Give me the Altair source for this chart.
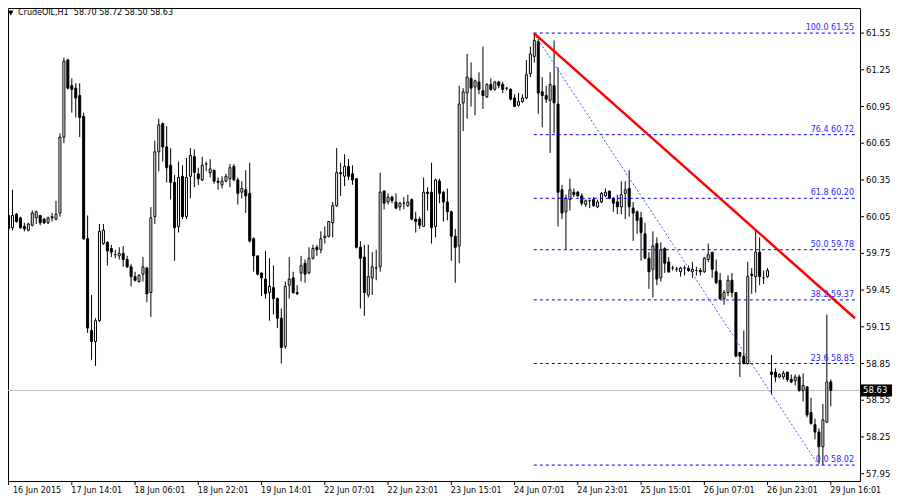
import altair as alt
import pandas as pd
import numpy as np

# ---------------- data ----------------
opens = [
    60.06, 59.96, 60.07, 60.04, 59.97, 59.94, 59.98, 60.04, 60.06, 60.03,
    60.00, 60.04, 60.03, 60.08, 60.70, 61.33, 61.12, 61.10, 61.04, 60.87,
    59.87, 59.12, 59.03, 59.20, 59.83, 59.84, 59.79, 59.74, 59.73, 59.75,
    59.70, 59.64, 59.56, 59.52, 59.58, 59.63, 59.43, 60.05, 60.58, 60.81,
    60.62, 60.47, 60.33, 59.97, 60.38, 60.05, 60.38, 60.54, 60.40, 60.35,
    60.48, 60.41, 60.43, 60.34, 60.31, 60.34, 60.36, 60.46, 60.35, 60.25,
    60.27, 60.24, 59.87, 59.73, 59.59, 59.54, 59.43, 59.47, 59.38, 59.22,
    58.99, 59.49, 59.55, 59.43, 59.59, 59.67, 59.59, 59.71, 59.80, 59.78,
    59.88, 59.89, 60.00, 60.14, 60.41, 60.38, 60.46, 60.40, 60.36, 59.80,
    59.72, 59.41, 59.55, 59.63, 59.64, 60.26, 60.17, 60.21, 60.17, 60.13,
    60.16, 60.14, 60.19, 60.03, 60.03, 59.97, 60.25, 60.25, 59.97, 60.34,
    60.25, 60.17, 60.09, 59.89, 59.81, 60.98, 61.06, 61.18, 61.11, 61.15,
    61.08, 61.03, 61.13, 61.09, 61.15, 61.13, 61.10, 61.09, 61.02, 60.96,
    60.99, 61.02, 61.22, 61.36, 61.48, 61.07, 61.04, 61.00, 61.12, 60.97,
    60.27, 60.09, 60.19, 60.25, 60.25, 60.22, 60.15, 60.18, 60.19, 60.13,
    60.17, 60.22, 60.26, 60.20, 60.17, 60.13, 60.24, 60.28, 60.12, 60.09,
    60.04, 59.91, 59.71, 59.62, 59.83, 59.55, 59.79, 59.68, 59.63, 59.62,
    59.60, 59.63, 59.63, 59.60, 59.61, 59.61, 59.60, 59.70, 59.76, 59.60,
    59.53, 59.38, 59.43, 59.53, 59.43, 58.94, 58.91, 58.85, 59.58, 59.56,
    59.76, 59.55, 59.56, 58.78, 58.78, 58.74, 58.74, 58.78, 58.72, 58.71,
    58.74, 58.63, 58.66, 58.45, 58.35, 58.29, 58.17, 58.37, 58.70,
]
highs = [
    60.08, 60.27, 60.08, 60.05, 60.00, 60.00, 60.10, 60.10, 60.06, 60.04,
    60.05, 60.08, 60.18, 60.73, 61.35, 61.34, 61.18, 61.14, 61.14, 60.90,
    60.06, 59.41, 59.22, 59.99, 59.99, 59.85, 59.82, 59.78, 59.80, 59.81,
    59.73, 59.66, 59.60, 59.58, 59.72, 59.64, 60.13, 60.67, 60.85, 60.82,
    60.79, 60.61, 60.39, 60.50, 60.47, 60.53, 60.61, 60.60, 60.45, 60.54,
    60.50, 60.52, 60.43, 60.37, 60.38, 60.40, 60.48, 60.48, 60.37, 60.34,
    60.43, 60.49, 59.88, 59.73, 59.59, 59.77, 59.71, 59.65, 59.39, 59.30,
    59.52, 59.72, 59.60, 59.49, 59.73, 59.70, 59.80, 59.82, 59.82, 59.93,
    59.97, 60.01, 60.17, 60.61, 60.49, 60.56, 60.52, 60.47, 60.36, 59.85,
    59.82, 59.82, 59.76, 59.78, 60.41, 60.26, 60.24, 60.22, 60.24, 60.17,
    60.21, 60.23, 60.20, 60.09, 60.05, 60.37, 60.29, 60.49, 60.36, 60.36,
    60.26, 60.28, 60.10, 59.95, 61.12, 61.10, 61.38, 61.31, 61.17, 61.23,
    61.44, 61.14, 61.18, 61.16, 61.16, 61.15, 61.11, 61.10, 61.05, 61.06,
    61.05, 61.33, 61.44, 61.55, 61.50, 61.19, 61.12, 61.23, 61.49, 61.27,
    60.31, 60.23, 60.36, 60.28, 60.26, 60.24, 60.19, 60.19, 60.21, 60.19,
    60.25, 60.28, 60.26, 60.21, 60.23, 60.34, 60.34, 60.43, 60.17, 60.10,
    60.09, 60.00, 59.76, 59.93, 59.88, 59.84, 59.80, 59.72, 59.65, 59.64,
    59.64, 59.65, 59.65, 59.68, 59.64, 59.63, 59.72, 59.83, 59.76, 59.70,
    59.59, 59.45, 59.57, 59.59, 59.43, 58.94, 59.12, 59.68, 59.63, 59.94,
    59.88, 59.61, 59.63, 58.92, 58.81, 58.77, 58.79, 58.78, 58.76, 58.76,
    58.76, 58.77, 58.66, 58.57, 58.40, 58.32, 58.52, 59.25, 58.72,
]
lows = [
    59.93, 59.94, 60.00, 59.95, 59.93, 59.93, 59.97, 59.99, 59.98, 59.99,
    59.99, 60.01, 60.02, 60.05, 60.65, 61.09, 60.90, 60.86, 60.70, 59.86,
    59.10, 58.88, 58.83, 59.19, 59.82, 59.65, 59.72, 59.71, 59.70, 59.64,
    59.63, 59.48, 59.52, 59.51, 59.52, 59.35, 59.23, 59.99, 60.42, 60.50,
    60.33, 60.19, 59.69, 59.92, 60.03, 60.03, 60.20, 60.29, 60.31, 60.34,
    60.42, 60.37, 60.32, 60.27, 60.28, 60.33, 60.29, 60.34, 60.15, 60.20,
    60.08, 59.84, 59.60, 59.57, 59.40, 59.38, 59.20, 59.25, 59.14, 58.85,
    58.97, 59.38, 59.42, 59.41, 59.52, 59.51, 59.58, 59.70, 59.73, 59.75,
    59.83, 59.88, 59.88, 60.13, 60.22, 60.30, 60.35, 60.31, 59.79, 59.30,
    59.24, 59.39, 59.41, 59.53, 59.60, 60.11, 60.15, 60.16, 60.11, 60.10,
    60.11, 60.13, 60.02, 59.92, 59.95, 59.97, 60.10, 59.83, 59.88, 60.16,
    60.01, 60.02, 59.69, 59.51, 59.67, 60.75, 60.85, 60.95, 60.88, 61.05,
    60.93, 61.02, 61.08, 61.08, 61.10, 61.06, 61.08, 61.00, 60.95, 60.95,
    60.98, 61.01, 61.19, 61.31, 60.89, 60.78, 60.98, 60.57, 60.73, 59.97,
    60.03, 59.78, 60.10, 60.21, 60.21, 60.14, 60.13, 60.12, 60.13, 60.12,
    60.16, 60.21, 60.20, 60.09, 60.07, 60.07, 60.03, 60.05, 59.85, 59.91,
    59.69, 59.71, 59.46, 59.39, 59.49, 59.52, 59.59, 59.59, 59.61, 59.60,
    59.56, 59.57, 59.60, 59.55, 59.57, 59.57, 59.59, 59.68, 59.55, 59.50,
    59.37, 59.33, 59.40, 59.39, 58.90, 58.74, 58.84, 58.84, 59.42, 59.43,
    59.49, 59.50, 59.55, 58.60, 58.70, 58.73, 58.72, 58.70, 58.69, 58.67,
    58.62, 58.54, 58.41, 58.35, 58.23, 58.03, 58.02, 58.37, 58.50,
]
closes = [
    59.95, 60.06, 60.01, 59.96, 59.95, 59.99, 60.08, 60.09, 60.00, 60.00,
    60.04, 60.05, 60.07, 60.70, 61.32, 61.10, 61.09, 61.02, 60.86, 59.87,
    59.14, 59.03, 59.20, 59.93, 59.94, 59.77, 59.76, 59.74, 59.75, 59.70,
    59.64, 59.56, 59.53, 59.57, 59.64, 59.42, 60.04, 60.58, 60.80, 60.62,
    60.45, 60.33, 59.96, 60.37, 60.05, 60.37, 60.55, 60.41, 60.36, 60.47,
    60.48, 60.44, 60.34, 60.33, 60.34, 60.38, 60.45, 60.35, 60.24, 60.28,
    60.22, 59.85, 59.73, 59.58, 59.55, 59.42, 59.48, 59.38, 59.22, 58.98,
    59.48, 59.54, 59.43, 59.42, 59.65, 59.58, 59.71, 59.79, 59.78, 59.87,
    59.89, 60.01, 60.14, 60.41, 60.40, 60.46, 60.38, 60.35, 59.80, 59.71,
    59.43, 59.56, 59.64, 59.63, 60.25, 60.16, 60.21, 60.18, 60.12, 60.16,
    60.16, 60.17, 60.03, 60.01, 59.98, 60.25, 60.24, 59.96, 60.35, 60.24,
    60.17, 60.09, 59.89, 59.80, 60.97, 61.07, 61.19, 61.10, 61.16, 61.09,
    61.04, 61.13, 61.09, 61.15, 61.12, 61.09, 61.10, 61.01, 60.95, 60.99,
    61.02, 61.21, 61.38, 61.49, 61.06, 61.04, 61.01, 61.13, 60.98, 60.25,
    60.08, 60.20, 60.27, 60.23, 60.22, 60.16, 60.18, 60.18, 60.14, 60.17,
    60.24, 60.25, 60.20, 60.16, 60.13, 60.23, 60.27, 60.13, 60.08, 60.02,
    59.92, 59.71, 59.60, 59.81, 59.54, 59.78, 59.67, 59.60, 59.63, 59.62,
    59.63, 59.63, 59.61, 59.62, 59.61, 59.60, 59.71, 59.74, 59.62, 59.51,
    59.38, 59.43, 59.53, 59.43, 58.91, 58.91, 58.85, 59.56, 59.57, 59.76,
    59.56, 59.55, 59.61, 58.76, 58.74, 58.76, 58.77, 58.72, 58.70, 58.74,
    58.63, 58.67, 58.43, 58.36, 58.29, 58.17, 58.39, 58.70, 58.63,
]

x_labels = ["16 Jun 2015", "17 Jun 14:01", "18 Jun 06:01", "18 Jun 22:01",
            "19 Jun 14:01", "22 Jun 07:01", "22 Jun 23:01", "23 Jun 15:01",
            "24 Jun 07:01", "24 Jun 23:01", "25 Jun 15:01", "26 Jun 07:01",
            "26 Jun 23:01", "29 Jun 16:01"]
label_step = 16
y_ticks = [61.55, 61.25, 60.95, 60.65, 60.35, 60.05, 59.75, 59.45,
           59.15, 58.85, 58.55, 58.25, 57.95]

fib_levels = [100.0, 76.4, 61.8, 50.0, 38.2, 23.6, 0.0]
fib_prices = [61.55, 60.72, 60.20, 59.78, 59.37, 58.85, 58.02]
fib_start_bar = 133
fib_end_bar = 205          # bar of the 0.0 low
red_start = (133, 61.55)
red_end = (214.25, 59.22)

symbol = "CrudeOIL,H1"

# ---------------- build ----------------
n = len(opens)
assert len(highs) == n and len(lows) == n and len(closes) == n

W, H = 852, 473
X_DOMAIN = [1.25, 214.25]
Y_DOMAIN = [57.89, 61.755]
xs = alt.Scale(domain=X_DOMAIN, nice=False, zero=False)
ys = alt.Scale(domain=Y_DOMAIN, nice=False, zero=False)
FONT = "DejaVu Sans"

df = pd.DataFrame({"i": list(range(n)), "o": opens, "h": highs, "l": lows, "c": closes})
df["fill"] = np.where(df["c"] >= df["o"], "white", "black")

current = closes[-1]
cur_df = pd.DataFrame({"p": [current], "t": [f"{current:.2f}"]})

cur_line = alt.Chart(cur_df).mark_rule(color="#c0c0c0", strokeWidth=1).encode(
    y=alt.Y("p:Q", scale=ys, axis=None))

wicks = alt.Chart(df).mark_rule(color="black", strokeWidth=1, xOffset=0.5, clip=True).encode(
    x=alt.X("i:Q", scale=xs, axis=None),
    y=alt.Y("l:Q", scale=ys, axis=None),
    y2="h:Q")

bodies = alt.Chart(df).mark_bar(size=2, stroke="black", strokeWidth=1, xOffset=0.5,
                                clip=True).encode(
    x=alt.X("i:Q", scale=xs, axis=None),
    y=alt.Y("o:Q", scale=ys, axis=None),
    y2="c:Q",
    fill=alt.Fill("fill:N", scale=None))

fib_df = pd.DataFrame({
    "x0": [fib_start_bar] * len(fib_levels),
    "x1": [X_DOMAIN[1]] * len(fib_levels),
    "p": fib_prices,
    "t": [f"{lv:.1f} {pr:.2f}" for lv, pr in zip(fib_levels, fib_prices)],
})
fib_lines = alt.Chart(fib_df).mark_rule(color="#0000ee", strokeWidth=1, strokeDash=[3, 3]).encode(
    x=alt.X("x0:Q", scale=xs, axis=None), x2="x1:Q",
    y=alt.Y("p:Q", scale=ys, axis=None))
fib_text = alt.Chart(fib_df).mark_text(align="right", baseline="alphabetic", dx=-1, dy=-3,
                                       font=FONT, fontSize=8, color="#2a2aff").encode(
    x=alt.X("x1:Q", scale=xs, axis=None),
    y=alt.Y("p:Q", scale=ys, axis=None),
    text="t:N")

diag_df = pd.DataFrame({"x0": [fib_start_bar], "x1": [fib_end_bar],
                        "p0": [fib_prices[0]], "p1": [fib_prices[-1]]})
diag = alt.Chart(diag_df).mark_rule(color="#3a62e6", strokeWidth=1, strokeDash=[2, 2]).encode(
    x=alt.X("x0:Q", scale=xs, axis=None), x2="x1:Q",
    y=alt.Y("p0:Q", scale=ys, axis=None), y2="p1:Q")

red_df = pd.DataFrame({"x0": [red_start[0]], "x1": [red_end[0]],
                       "p0": [red_start[1]], "p1": [red_end[1]]})
red = alt.Chart(red_df).mark_rule(color="#ff0000", strokeWidth=2.5).encode(
    x=alt.X("x0:Q", scale=xs, axis=None), x2="x1:Q",
    y=alt.Y("p0:Q", scale=ys, axis=None), y2="p1:Q")

# ----- axes drawn as marks -----
yt_df = pd.DataFrame({"p": y_ticks, "t": [f"{v:.2f}" for v in y_ticks]})
y_tickmarks = alt.Chart(yt_df).mark_rule(color="black", strokeWidth=1).encode(
    x=alt.value(W), x2=alt.value(W + 4), y=alt.Y("p:Q", scale=ys, axis=None))
y_labels = alt.Chart(yt_df).mark_text(align="left", baseline="middle", font=FONT,
                                      fontSize=8.5, color="black").encode(
    x=alt.value(W + 6), y=alt.Y("p:Q", scale=ys, axis=None), text="t:N")

xt_pos = [k * label_step for k in range(len(x_labels))]
xt_df = pd.DataFrame({"i": xt_pos, "t": x_labels,
                      "lx": [max(v, X_DOMAIN[0]) for v in xt_pos]})
x_tickmarks = alt.Chart(xt_df).mark_rule(color="black", strokeWidth=1, xOffset=0.5).encode(
    x=alt.X("i:Q", scale=xs, axis=None), y=alt.value(H), y2=alt.value(H + 4))
x_labels_mark = alt.Chart(xt_df).mark_text(align="left", baseline="top", font=FONT,
                                           fontSize=8, color="black", dx=0).encode(
    x=alt.X("lx:Q", scale=xs, axis=None), y=alt.value(H + 6), text="t:N")

tag_box = alt.Chart(cur_df).mark_rect(color="black", yOffset=-6, y2Offset=6).encode(
    x=alt.value(W + 1), x2=alt.value(W + 32),
    y=alt.Y("p:Q", scale=ys, axis=None), y2="p:Q")
tag_text = alt.Chart(cur_df).mark_text(align="left", baseline="middle", font=FONT,
                                       fontSize=8.5, color="white").encode(
    x=alt.value(W + 3), y=alt.Y("p:Q", scale=ys, axis=None), text="t:N")

header = f"{symbol}\u00a0 {opens[-1]:.2f} {highs[-1]:.2f} {lows[-1]:.2f} {closes[-1]:.2f}"
head_df = pd.DataFrame({"t": [header], "a": ["\u25bc"]})
head_text = alt.Chart(head_df).mark_text(align="left", baseline="middle", font=FONT,
                                         fontSize=8, color="black").encode(
    x=alt.value(10), y=alt.value(5), text="t:N")
head_tri = alt.Chart(head_df).mark_text(align="left", baseline="middle", font=FONT,
                                        fontSize=7, color="black").encode(
    x=alt.value(0), y=alt.value(5), text="a:N")

chart = alt.layer(
    cur_line, wicks, bodies, fib_lines, diag, red, fib_text,
    y_tickmarks, y_labels, x_tickmarks, x_labels_mark,
    tag_box, tag_text, head_tri, head_text
).properties(
    width=W, height=H,
    padding={"left": 0, "top": 0, "right": 32, "bottom": 18},
    autosize=alt.AutoSizeParams(type="none"),
    background="white",
).configure_view(stroke="black", strokeWidth=1)

chart.save("out.html", embed_options={"renderer": "svg", "actions": False})
